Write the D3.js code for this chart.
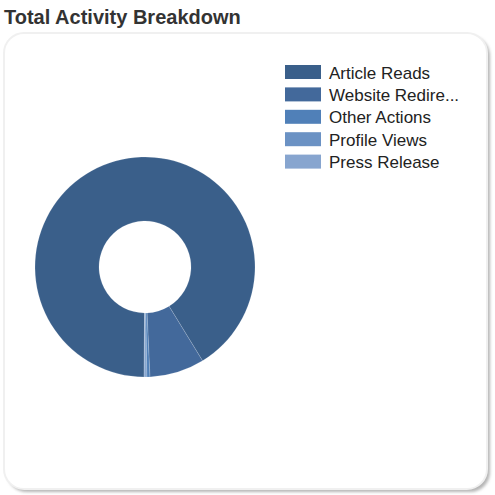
<!DOCTYPE html>
<html>
<head>
<meta charset="utf-8">
<script src="https://cdn.jsdelivr.net/npm/d3@7"></script>
<style>
  body { margin: 0; background: #fff; }
  svg { display: block; }
</style>
</head>
<body>
<svg id="chart"></svg>
<script>
// data
var categories = ["Article Reads", "Website Redirects", "Other Actions", "Profile Views", "Press Release"];
var counts = [9110, 805, 45, 25, 15];
var legendLabels = ["Article Reads", "Website Redire...", "Other Actions", "Profile Views", "Press Release"];

var width = 495,
    height = 495;

var svg = d3.select("#chart")
  .attr("width", width)
  .attr("height", height);

// title
svg.append("text")
  .attr("x", 4)
  .attr("y", 24)
  .attr("font-family", "Liberation Sans, Arial, sans-serif")
  .attr("font-weight", "bold")
  .attr("font-size", 20)
  .attr("fill", "#333")
  .text("Total Activity Breakdown");

// panel with soft shadow
var defs = svg.append("defs");
var filter = defs.append("filter")
  .attr("id", "shadow")
  .attr("x", "-10%").attr("y", "-10%")
  .attr("width", "120%").attr("height", "120%");
filter.append("feGaussianBlur").attr("stdDeviation", 1.5);

svg.append("rect")
  .attr("x", 7).attr("y", 36)
  .attr("width", 483).attr("height", 456)
  .attr("rx", 20)
  .attr("fill", "#b5b5b5")
  .attr("filter", "url(#shadow)");

svg.append("rect")
  .attr("x", 4).attr("y", 33)
  .attr("width", 483).attr("height", 456)
  .attr("rx", 20)
  .attr("fill", "#fff")
  .attr("stroke", "#f0f0f0")
  .attr("stroke-width", 2);

var color = d3.scaleOrdinal()
  .domain(categories)
  .range(["#3a5f8a", "#43699b", "#5080b8", "#6b92c4", "#87a5cf"]);

var data = categories.map(function(c, i) { return { name: c, count: counts[i] }; });

var startA = 180.5 * Math.PI / 180;
var pie = d3.pie()
  .value(function(d) { return d.count; })
  .sort(null)
  .startAngle(startA)
  .endAngle(startA + 2 * Math.PI);

var arc = d3.arc()
  .innerRadius(46)
  .outerRadius(110);

var g = svg.append("g")
  .attr("transform", "translate(145,267)");

g.selectAll("path")
  .data(pie(data))
  .join("path")
  .attr("d", arc)
  .attr("fill", function(d) { return color(d.data.name); })
  .attr("stroke", "rgba(255,255,255,0.25)")
  .attr("stroke-width", 0.6);

// legend
var legend = svg.append("g")
  .attr("transform", "translate(285,65)");

var rows = legend.selectAll("g")
  .data(categories)
  .join("g")
  .attr("transform", function(d, i) { return "translate(0," + (i * 22.4) + ")"; });

rows.append("rect")
  .attr("width", 36)
  .attr("height", 14)
  .attr("fill", function(d) { return color(d); });

rows.append("text")
  .attr("x", 44)
  .attr("y", 13.5)
  .attr("font-family", "Liberation Sans, Arial, sans-serif")
  .attr("font-size", 17)
  .attr("fill", "#222")
  .text(function(d, i) { return legendLabels[i]; });
</script>
</body>
</html>
